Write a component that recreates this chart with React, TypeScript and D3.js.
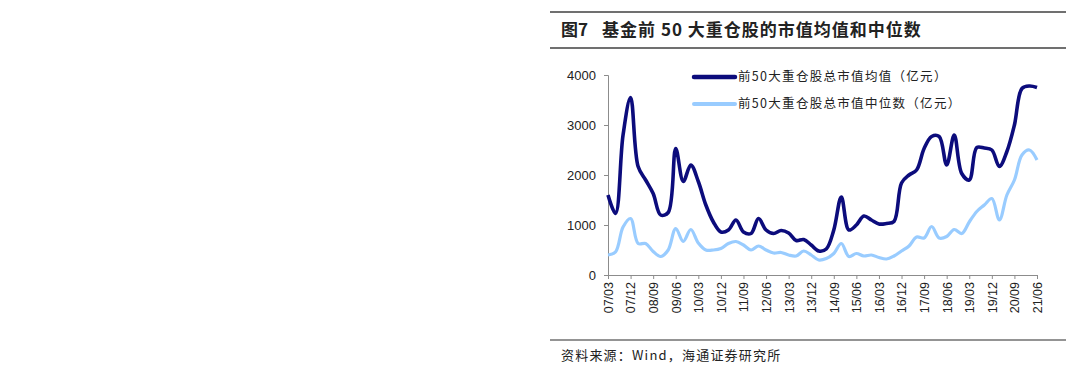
import { useEffect, useRef } from 'react'
import * as d3 from 'd3'

// quarterly 07/03 .. 21/06
const years = d3.range(2007, 2022)
const quarters: string[] = []
years.forEach(y => {
  ;['03', '06', '09', '12'].forEach(m => {
    const q = `${String(y).slice(2)}/${m}`
    if (y === 2021 && (m === '09' || m === '12')) return
    quarters.push(q)
  })
})

const meanValues = [
  1600, 1230, 2800, 3550, 2170, 1900, 1630, 1200, 1250, 2530,
  1870, 2200, 1870, 1400, 1060, 860, 900, 1100, 860, 830,
  1130, 900, 830, 890, 840, 690, 710, 600, 480, 520,
  900, 1560, 900, 1000, 1180, 1100, 1020, 1030, 1070, 1840,
  2000, 2100, 2530, 2770, 2770, 2200, 2800, 2030, 1900, 2550,
  2540, 2500, 2170, 2470, 3000, 3730, 3780, 3750
]

const medianValues = [
  400, 460, 960, 1130, 630, 630, 470, 370, 500, 930,
  670, 910, 640, 500, 500, 530, 630, 670, 600, 500,
  580, 500, 440, 450, 400, 380, 480, 400, 300, 330,
  430, 630, 370, 430, 380, 400, 350, 320, 380, 480,
  580, 760, 740, 970, 740, 770, 910, 830, 1060, 1270,
  1400, 1530, 1100, 1600, 1900, 2400, 2500, 2300
]

const yTicks = [0, 1000, 2000, 3000, 4000]
const seriesNames = ['前50大重仓股总市值均值（亿元）', '前50大重仓股总市值中位数（亿元）']
const seriesColors = ['#0c0c7c', '#99ccff']

export default function App() {
  const svgRef = useRef<SVGSVGElement>(null)

  useEffect(() => {
    if (!svgRef.current) return
    const svg = d3.select(svgRef.current)
    svg.selectAll('*').remove()

    const W = 1080, H = 370
    svg.attr('width', W).attr('height', H)

    const m = { top: 75, left: 608, right: 1037, bottom: 275 }

    // frame rules + title
    ;[12, 48, 340].forEach(y => {
      svg.append('line').attr('x1', 550).attr('x2', 1066).attr('y1', y).attr('y2', y)
        .attr('stroke', '#707070').attr('stroke-width', y === 340 ? 1.5 : 2)
    })
    const title = svg.append('text').attr('x', 561).attr('y', 36)
      .attr('font-family', '"Noto Sans CJK SC", sans-serif').attr('font-size', 17).attr('font-weight', 'bold')
      .attr('fill', '#222')
    title.append('tspan').text('图7')
    title.append('tspan').attr('dx', 14).attr('letter-spacing', 1)
      .text('基金前 50 大重仓股的市值均值和中位数')
    svg.append('text').attr('x', 561).attr('y', 360)
      .attr('font-family', '"Noto Sans CJK SC", sans-serif').attr('font-size', 13)
      .attr('letter-spacing', 1.2)
      .attr('fill', '#222')
      .text('资料来源：Wind，海通证券研究所')

    const x = d3.scalePoint<string>().domain(quarters).range([m.left, m.right])
    const y = d3.scaleLinear().domain([0, 4000]).range([m.bottom, m.top])

    // y axis
    svg.append('g').attr('transform', `translate(${m.left},0)`)
      .call(d3.axisLeft(y).tickValues(yTicks).tickSize(4).tickPadding(8).tickFormat(d => String(d)))
      .call(ax => {
        ax.select('.domain').attr('stroke', '#8c8c8c')
        ax.selectAll('line').attr('stroke', '#8c8c8c')
        ax.selectAll('text').attr('fill', '#222').attr('font-size', 13)
          .attr('font-family', '"Liberation Sans", Arial, sans-serif')
      })

    // x axis
    const labelQs = quarters.filter((_, i) => i % 3 === 0)
    svg.append('g').attr('transform', `translate(0,${m.bottom})`)
      .call(d3.axisBottom(x).tickValues(labelQs).tickSize(4).tickSizeOuter(0))
      .call(ax => {
        ax.select('.domain').attr('stroke', '#8c8c8c')
        ax.selectAll('line').attr('stroke', '#8c8c8c')
        ax.selectAll('text')
          .attr('fill', '#222').attr('font-size', 12.5)
          .attr('font-family', '"Liberation Sans", Arial, sans-serif')
          .attr('transform', 'rotate(-90)')
          .attr('text-anchor', 'end')
          .attr('x', -7).attr('y', 0).attr('dy', '0.35em')
      })

    const line = d3.line<number>()
      .x((_, i) => x(quarters[i]) as number)
      .y(d => y(d))
      .curve(d3.curveCatmullRom.alpha(0.5))

    svg.append('path').datum(medianValues).attr('d', line)
      .attr('fill', 'none').attr('stroke', seriesColors[1]).attr('stroke-width', 3.2)
      .attr('stroke-linejoin', 'round')
    svg.append('path').datum(meanValues).attr('d', line)
      .attr('fill', 'none').attr('stroke', seriesColors[0]).attr('stroke-width', 3.6)
      .attr('stroke-linejoin', 'round')

    // legend
    seriesNames.forEach((name, i) => {
      const ly = 77 + i * 27
      svg.append('line').attr('x1', 694).attr('x2', 735).attr('y1', ly).attr('y2', ly)
        .attr('stroke', seriesColors[i]).attr('stroke-width', i === 0 ? 4.5 : 4)
        .attr('stroke-linecap', 'round')
      svg.append('text').attr('x', 738).attr('y', ly).attr('dy', '0.35em')
        .attr('font-family', '"Noto Sans CJK SC", sans-serif').attr('font-size', 12.5)
        .attr('letter-spacing', 1.3)
        .attr('fill', '#222')
        .text(name)
    })
  }, [])

  return (
    <div style={{ position: 'absolute', left: 0, top: 0 }}>
      <svg ref={svgRef} />
    </div>
  )
}
